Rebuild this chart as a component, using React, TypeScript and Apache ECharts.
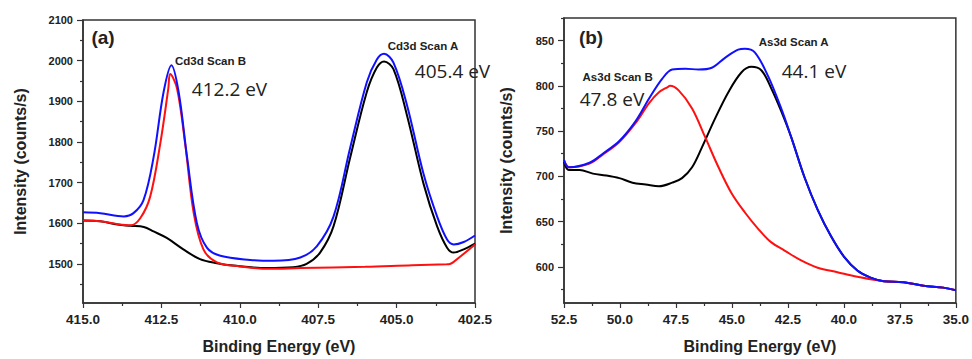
import React, { useEffect, useRef } from "react";
import * as echarts from "echarts";

// Panel (a): Cd3d — [binding energy (eV), intensity (counts/s)]
const cdEnvelope = [
  [415.0, 1627], [414.45, 1625], [413.7, 1617], [413.39, 1625], [413.07, 1657],
  [412.75, 1762], [412.43, 1923], [412.18, 1989], [411.95, 1923], [411.68, 1762],
  [411.37, 1601], [411.05, 1540], [410.62, 1520], [409.67, 1510], [408.92, 1508],
  [408.07, 1516], [407.54, 1544], [407.01, 1617], [406.48, 1786], [405.95, 1947],
  [405.63, 2003], [405.4, 2017], [405.1, 1995], [404.67, 1891], [404.14, 1721],
  [403.71, 1617], [403.39, 1560], [403.18, 1548], [402.86, 1554], [402.5, 1570],
];
const cdScanB = [
  [415.0, 1607], [414.45, 1605], [413.9, 1598], [413.48, 1595], [413.17, 1613],
  [412.86, 1665], [412.54, 1794], [412.28, 1931], [412.22, 1967], [412.0, 1931],
  [411.74, 1794], [411.47, 1625], [411.16, 1536], [410.73, 1504], [410.0, 1494],
  [409.04, 1488], [408.07, 1490], [406.0, 1493], [404.5, 1497], [403.4, 1499],
  [403.3, 1500], [403.2, 1504], [402.5, 1548],
];
const cdScanA = [
  [415.0, 1607], [414.45, 1605], [413.9, 1597], [413.48, 1594], [413.06, 1591],
  [412.75, 1580], [412.33, 1564], [411.8, 1536], [411.27, 1512], [410.73, 1502],
  [410.2, 1496], [409.15, 1490], [408.3, 1492], [407.87, 1500], [407.44, 1528],
  [407.01, 1593], [406.48, 1762], [405.95, 1923], [405.63, 1983], [405.4, 1998],
  [405.1, 1979], [404.67, 1866], [404.14, 1697], [403.71, 1593], [403.39, 1540],
  [403.18, 1528], [402.86, 1536], [402.5, 1550],
];

// Panel (b): As3d
const asEnvelope = [
  [52.5, 718], [52.28, 710], [51.36, 715], [50.77, 725], [50.03, 739],
  [49.3, 761], [48.7, 786], [48.11, 808], [47.67, 818], [47.08, 819],
  [46.49, 818], [45.9, 820], [45.31, 831], [44.72, 840], [44.42, 841],
  [43.98, 837], [43.39, 811], [42.8, 775], [42.35, 743], [41.76, 699],
  [41.17, 663], [40.58, 634], [39.99, 611], [39.4, 596], [38.81, 588],
  [38.22, 584], [37.33, 583], [36.45, 579], [35.56, 577], [35.0, 574],
];
const asScanB = [
  [52.5, 718], [52.25, 710], [51.36, 714], [50.77, 724], [50.03, 738],
  [49.3, 759], [48.7, 781], [48.26, 793], [47.85, 799], [47.77, 800],
  [47.38, 795], [46.78, 775], [46.19, 743], [45.6, 710], [45.01, 681],
  [44.42, 660], [43.83, 642], [43.24, 627], [42.65, 618], [41.91, 607],
  [41.17, 599], [40.29, 594], [39.4, 589], [38.22, 584], [37.33, 583],
  [36.45, 579], [35.56, 577], [35.0, 574],
];
const asScanA = [
  [52.5, 716], [52.28, 707], [51.8, 707], [51.21, 703], [50.62, 701],
  [50.03, 698], [49.44, 693], [48.85, 691], [48.26, 689], [47.67, 693],
  [47.23, 698], [46.78, 710], [46.34, 732], [45.75, 764], [45.16, 793],
  [44.57, 815], [44.13, 821], [43.68, 817], [43.24, 797], [42.8, 772],
  [42.35, 743], [41.76, 699], [41.17, 663], [40.58, 634], [39.99, 611],
  [39.4, 596], [38.81, 588], [38.22, 584], [37.33, 583], [36.45, 579],
  [35.56, 577], [35.0, 574],
];

const cdYLabels = [1500, 1600, 1700, 1800, 1900, 2000, 2100];
const cdYMinor = [1450, 1550, 1650, 1750, 1850, 1950, 2050];
const asYLabels = [600, 650, 700, 750, 800, 850];
const asYMinor = [575, 625, 675, 725, 775, 825, 875];

const annotations = [
  { text: "(a)", x: 103, y: 37, kind: "panel" },
  { text: "Cd3d Scan B", x: 210.5, y: 61, kind: "scan" },
  { text: "412.2 eV", x: 229.5, y: 89, kind: "ev" },
  { text: "Cd3d Scan A", x: 423, y: 46, kind: "scan" },
  { text: "405.4 eV", x: 452.5, y: 71, kind: "ev" },
  { text: "(b)", x: 591, y: 37, kind: "panel" },
  { text: "As3d Scan A", x: 793.7, y: 41.7, kind: "scan" },
  { text: "44.1 eV", x: 814, y: 71, kind: "ev" },
  { text: "As3d Scan B", x: 617.7, y: 77, kind: "scan" },
  { text: "47.8 eV", x: 612, y: 99, kind: "ev" },
];

const AX = "#333";
const BOLD = "Liberation Sans";

function xAxisFor(grid: number, min: number, max: number) {
  return {
    type: "value",
    gridIndex: grid,
    min,
    max,
    interval: 2.5,
    inverse: true,
    axisLine: { show: true, lineStyle: { color: AX, width: 1.5 } },
    axisTick: { show: true, length: 5, lineStyle: { color: AX, width: 1.2 } },
    minorTick: { show: true, splitNumber: 2, length: 3, lineStyle: { color: AX, width: 1.2 } },
    splitLine: { show: false },
    minorSplitLine: { show: false },
    axisLabel: {
      margin: 9,
      fontSize: 13.5,
      fontWeight: "bold",
      fontFamily: BOLD,
      color: "#222",
      formatter: (v: number) => v.toFixed(1),
    },
    name: "Binding Energy (eV)",
    nameLocation: "middle",
    nameGap: 35,
    nameTextStyle: { fontSize: 16, fontWeight: "bold", fontFamily: BOLD, color: "#222" },
  };
}

function yAxesFor(grid: number, min: number, max: number, labels: number[], minor: number[], gap: number) {
  return [
    {
      type: "value",
      gridIndex: grid,
      min,
      max,
      axisLine: { show: true, lineStyle: { color: AX, width: 1.5 } },
      axisTick: { show: true, length: 6, customValues: labels, lineStyle: { color: AX, width: 1.2 } },
      splitLine: { show: false },
      axisLabel: {
        customValues: labels,
        margin: 10,
        fontSize: 11,
        fontWeight: "bold",
        fontFamily: BOLD,
        color: "#222",
        formatter: (v: number) => String(v),
      },
      name: "Intensity (counts/s)",
      nameLocation: "middle",
      nameGap: gap,
      nameTextStyle: { fontSize: 16, fontWeight: "bold", fontFamily: BOLD, color: "#222" },
    },
    {
      type: "value",
      gridIndex: grid,
      min,
      max,
      position: "left",
      axisLine: { show: false },
      axisTick: { show: true, length: 3, customValues: minor, lineStyle: { color: AX, width: 1.2 } },
      axisLabel: { show: false },
      splitLine: { show: false },
    },
  ];
}

function line(data: number[][], color: string, xi: number, yi: number) {
  return {
    type: "line",
    data,
    xAxisIndex: xi,
    yAxisIndex: yi,
    smooth: 0.35,
    showSymbol: false,
    symbol: "none",
    lineStyle: { color, width: 2 },
    silent: true,
  };
}

export default function App() {
  const ref = useRef<HTMLDivElement>(null);
  useEffect(() => {
    const chart = echarts.init(ref.current!, null, { renderer: "svg" });
    const option: any = {
      animation: false,
      backgroundColor: "#fff",
      grid: [
        { left: 83, top: 20, width: 392, height: 288, show: true, borderColor: AX, borderWidth: 1.5, backgroundColor: "transparent" },
        { left: 564, top: 18, width: 395, height: 290, show: true, borderColor: AX, borderWidth: 1.5, backgroundColor: "transparent" },
      ],
      xAxis: [xAxisFor(0, 402.5, 415), xAxisFor(1, 35, 52.5)],
      yAxis: [
        ...yAxesFor(0, 1404, 2100, cdYLabels, cdYMinor, 55),
        ...yAxesFor(1, 560, 875, asYLabels, asYMinor, 50),
      ],
      series: [
        line(cdScanA, "#000000", 0, 0),
        line(cdScanB, "#ff1010", 0, 0),
        line(cdEnvelope, "#1010ff", 0, 0),
        line(asScanA, "#000000", 1, 2),
        line(asScanB, "#ff1010", 1, 2),
        line(asEnvelope, "#1010ff", 1, 2),
      ],
      graphic: annotations.map((a) => ({
        type: "text",
        x: a.x,
        y: a.y,
        z: 100,
        style: {
          text: a.text,
          align: "center",
          verticalAlign: "middle",
          fill: "#222",
          font:
            a.kind === "panel"
              ? `bold 19px ${BOLD}`
              : a.kind === "scan"
              ? `bold 11.5px ${BOLD}`
              : `19px 'Open Sans'`,
        },
      })),
    };
    chart.setOption(option);
    return () => chart.dispose();
  }, []);
  return (
    <div
      ref={ref}
      style={{ position: "absolute", left: 0, top: 0, width: 972, height: 359, background: "#fff" }}
    />
  );
}
